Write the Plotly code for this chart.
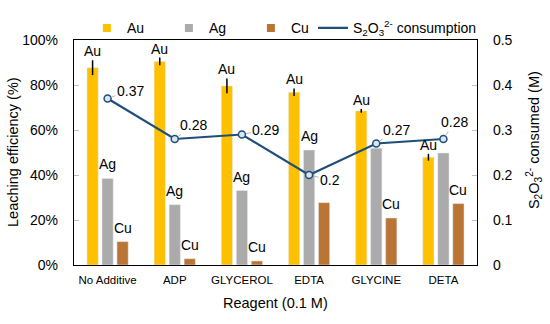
import plotly.graph_objects as go

# ---- data ----
categories = ["No Additive", "ADP", "GLYCEROL", "EDTA", "GLYCINE", "DETA"]
au = [87.7, 90.5, 79.6, 76.8, 68.5, 47.9]
au_err = [3.3, 1.7, 3.3, 1.7, 0.8, 1.5]
ag = [38.5, 26.8, 33.1, 51.1, 51.9, 49.8]
cu = [10.4, 2.8, 1.8, 27.7, 20.9, 27.3]
s2o3 = [0.37, 0.28, 0.29, 0.20, 0.27, 0.28]
s2o3_labels = ["0.37", "0.28", "0.29", "0.2", "0.27", "0.28"]
au_text = ["Au", "Au", "Au", "Au", "Au", "Au"]
ag_text = ["Ag", "Ag", "Ag", "Ag", "", ""]
cu_text = ["Cu", "Cu", "Cu", "", "Cu", "Cu"]

# ---- styles ----
FONT = "Liberation Sans, Arial, sans-serif"
C_AU, C_AG, C_CU, C_LINE = "#FFC000", "#ABABAB", "#BA7535", "#1F4E79"
label_offsets = [(23, -8), (19, -14), (24, -5), (21, 5), (20, -14), (11, -17)]
bar_shift = {"Au": -15, "Ag": 0, "Cu": 15}
LINE_NAME = "S<sub>2</sub>O<sub>3</sub><sup>2-</sup> consumption"

fig = go.Figure()
fig.add_trace(go.Bar(x=categories, y=au, name="Au", marker_color=C_AU, showlegend=False,
                     error_y=dict(type="data", array=au_err, color="black",
                                  thickness=1.5, width=0)))
fig.add_trace(go.Bar(x=categories, y=ag, name="Ag", marker_color=C_AG, showlegend=False))
fig.add_trace(go.Bar(x=categories, y=cu, name="Cu", marker_color=C_CU, showlegend=False))
fig.add_trace(go.Scatter(x=categories, y=s2o3, yaxis="y2", mode="lines+markers",
                         name=LINE_NAME, showlegend=False,
                         line=dict(color=C_LINE, width=2.2),
                         marker=dict(size=7, color="#D9E6F2",
                                     line=dict(color=C_LINE, width=1.5))))
# legend entries (small square keys like the reference)
for nm, col in (("Au", C_AU), ("Ag", C_AG), ("Cu", C_CU)):
    fig.add_trace(go.Scatter(x=[None], y=[None], mode="markers", name=nm,
                             marker=dict(symbol="square", size=8, color=col),
                             legend="legend"))
fig.add_trace(go.Scatter(x=[None], y=[None], mode="lines", name=LINE_NAME,
                         line=dict(color=C_LINE, width=2.2), legend="legend2"))

annotations = []
# bar labels
for i, cat in enumerate(categories):
    for name, vals, texts, extra in (("Au", au, au_text, au_err),
                                     ("Ag", ag, ag_text, None),
                                     ("Cu", cu, cu_text, None)):
        if not texts[i]:
            continue
        yv = vals[i] + (extra[i] if extra else 0)
        annotations.append(dict(x=cat, y=yv, xref="x", yref="y", text=texts[i],
                                showarrow=False, yanchor="bottom",
                                xshift=bar_shift[name], yshift=(-1 if extra else 4),
                                font=dict(family=FONT, size=14, color="black")))
# line value labels with leader lines
for i, cat in enumerate(categories):
    ax, ay = label_offsets[i]
    annotations.append(dict(x=cat, y=s2o3[i], xref="x", yref="y2", text=s2o3_labels[i],
                            showarrow=True, arrowhead=0, arrowwidth=0.8,
                            arrowcolor="#A6A6A6", standoff=4, ax=ax, ay=ay,
                            font=dict(family=FONT, size=14, color="black")))
# axis titles
annotations.append(dict(x=-0.1526, y=0.5, xref="paper", yref="paper",
                        text="Leaching efficiency (%)", textangle=-90, showarrow=False,
                        xanchor="center", yanchor="middle",
                        font=dict(family=FONT, size=14.5, color="black")))
annotations.append(dict(x=1.1414, y=0.555, xref="paper", yref="paper",
                        text="S<sub>2</sub>O<sub>3</sub><sup>2-</sup> consumed (M)",
                        textangle=-90, showarrow=False, xanchor="center", yanchor="middle",
                        font=dict(family=FONT, size=14.5, color="black")))
annotations.append(dict(x=0.5, y=-0.171, xref="paper", yref="paper",
                        text="Reagent (0.1 M)", showarrow=False,
                        xanchor="center", yanchor="middle",
                        font=dict(family=FONT, size=14.5, color="black")))

fig.update_layout(
    width=550, height=324, autosize=False,
    margin=dict(l=74, r=73, t=25, b=59),
    paper_bgcolor="white", plot_bgcolor="white",
    font=dict(family=FONT, size=14, color="black"),
    barmode="group", bargap=0.33, bargroupgap=0.25,
    legend=dict(orientation="h", x=0.032, xanchor="left", y=1.052, yanchor="middle",
                font=dict(family=FONT, size=14, color="black"),
                entrywidth=37, bgcolor="rgba(0,0,0,0)"),
    legend2=dict(orientation="h", x=0.593, xanchor="left", y=1.052, yanchor="middle",
                 font=dict(family=FONT, size=14, color="black"),
                 bgcolor="rgba(0,0,0,0)"),
    xaxis=dict(showline=True, linecolor="black", linewidth=1.3, mirror=True,
               ticks="", tickfont=dict(size=11.5), ticklabelstandoff=4,
               showgrid=False),
    yaxis=dict(range=[0, 100], dtick=20, ticksuffix="%", ticks="inside", ticklen=5,
               tickcolor="#BFBFBF", showline=True, linecolor="black", linewidth=1.3,
               showgrid=False, zeroline=False, tickfont=dict(size=14),
               ticklabelstandoff=12),
    yaxis2=dict(range=[0, 0.5], dtick=0.1, overlaying="y", side="right",
                ticks="inside", ticklen=5, tickcolor="#BFBFBF", showline=True,
                linecolor="black", linewidth=1.3, showgrid=False, zeroline=False,
                tickfont=dict(size=14), ticklabelstandoff=12),
    annotations=annotations,
)

fig.write_html("out.html", config={"displayModeBar": False},
               post_script="document.body.style.margin='0px';")
